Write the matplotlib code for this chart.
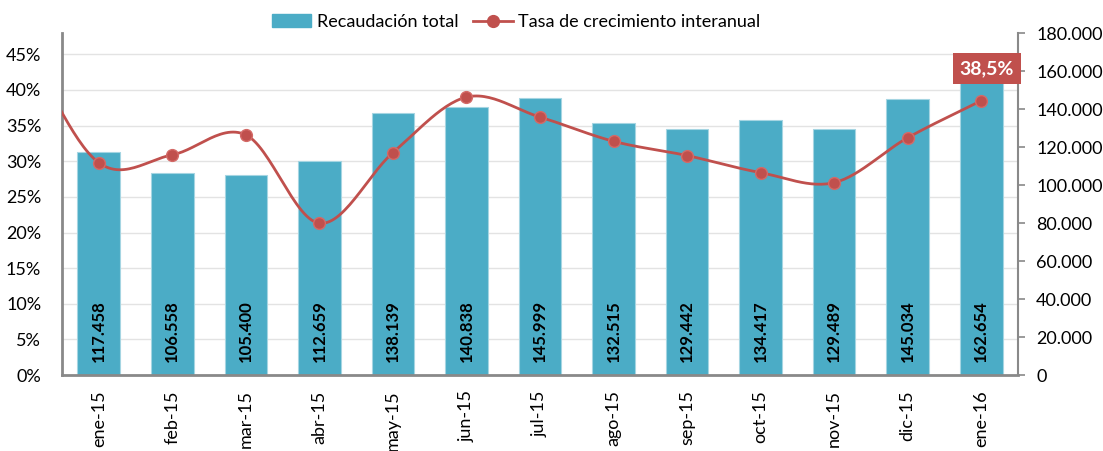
import numpy as np
import matplotlib.pyplot as plt
from matplotlib.ticker import FuncFormatter
from matplotlib.transforms import blended_transform_factory
from matplotlib.lines import Line2D
from matplotlib.patches import Patch

plt.rcParams['font.family'] = ['Lato', 'DejaVu Sans']

months = ['ene-15', 'feb-15', 'mar-15', 'abr-15', 'may-15', 'jun-15', 'jul-15',
          'ago-15', 'sep-15', 'oct-15', 'nov-15', 'dic-15', 'ene-16']
recaudacion = [117458, 106558, 105400, 112659, 138139, 140838, 145999,
               132515, 129442, 134417, 129489, 145034, 162654]
tasa = [0.298, 0.309, 0.337, 0.213, 0.312, 0.390, 0.362,
        0.328, 0.308, 0.284, 0.270, 0.333, 0.385]
# dic-14 value (off chart, only the curve entering from the left edge is visible)
tasa_prev = 0.46

bar_color = '#4BACC6'
line_color = '#C0504D'
spine_color = '#898989'


def smooth(xs, ys, n=30):
    # cubic hermite / catmull-rom like Excel's smoothed line
    xs = np.asarray(xs, float)
    ys = np.asarray(ys, float)
    m = np.zeros_like(ys)
    m[1:-1] = (ys[2:] - ys[:-2]) / 2
    m[0] = ys[1] - ys[0]
    m[-1] = ys[-1] - ys[-2]
    X, Y = [], []
    for i in range(len(xs) - 1):
        t = np.linspace(0, 1, n)
        h00 = 2*t**3 - 3*t**2 + 1
        h10 = t**3 - 2*t**2 + t
        h01 = -2*t**3 + 3*t**2
        h11 = t**3 - t**2
        X.append(xs[i] + t * (xs[i+1] - xs[i]))
        Y.append(h00*ys[i] + h10*m[i] + h01*ys[i+1] + h11*m[i+1])
    return np.concatenate(X), np.concatenate(Y)


fig = plt.figure(figsize=(11.03, 4.51), dpi=100)
W, H = 1103, 451
left, right, top, bottom = 62, 1018, 33, 375
axb = fig.add_axes([left / W, 1 - bottom / H, (right - left) / W, (bottom - top) / H])
axl = axb.twinx()

x = np.arange(len(months))

# bars (right axis)
axb.bar(x, recaudacion, width=0.58, color=bar_color, edgecolor='#A5D5E2',
        linewidth=0.8, zorder=2)
for i, v in enumerate(recaudacion):
    axb.annotate('{:,.0f}'.format(v).replace(',', '.'), xy=(i, 0), xytext=(0, 9),
                 textcoords='offset points', rotation=90, ha='center', va='bottom',
                 fontsize=12, fontweight='bold', color='black', zorder=3)
axb.set_ylim(0, 180000)
axb.set_yticks(np.arange(0, 180001, 20000))
axb.yaxis.set_major_formatter(FuncFormatter(lambda v, p: '{:,.0f}'.format(v).replace(',', '.')))
axb.yaxis.tick_right()
axb.tick_params(axis='y', direction='out', length=5, width=1.2, color=spine_color,
                labelsize=13, pad=8)
axb.set_xlim(-0.5, len(months) - 0.5)
axb.set_xticks(x)
axb.set_xticklabels(months, rotation=90, va='top', ha='center')
axb.tick_params(axis='x', length=0, labelsize=13, pad=11)

# line (left axis)
sx, sy = smooth(np.concatenate([[-1], x]), [tasa_prev] + tasa)
axl.plot(sx, sy, color=line_color, lw=2, zorder=4, clip_on=True)
axl.plot(x, tasa, 'o', color=line_color, markersize=8.5, markeredgecolor='#D46A67',
         markeredgewidth=1, zorder=5)
axl.set_ylim(0, 0.48)
axl.set_yticks(np.arange(0, 0.451, 0.05))
axl.yaxis.set_major_formatter(FuncFormatter(lambda v, p: '{:.0f}%'.format(v * 100)))
axl.yaxis.tick_left()
axl.tick_params(axis='y', length=0, labelsize=13, pad=15)

# gridlines behind the bars, at the percent ticks
tr = blended_transform_factory(axb.transAxes, axl.transData)
for t in np.arange(0.05, 0.451, 0.05):
    axb.add_line(Line2D([0, 1], [t, t], transform=tr, color='#E3E3E3', lw=1, zorder=1))

for ax in (axb, axl):
    ax.spines['top'].set_visible(False)
    for s in ('left', 'right', 'bottom'):
        ax.spines[s].set_color(spine_color)
        ax.spines[s].set_linewidth(2)
axl.spines['bottom'].set_visible(False)
axl.spines['right'].set_visible(False)
axb.spines['left'].set_visible(False)
axb.spines['right'].set_linewidth(1.5)

# label of the last value
last = len(tasa) - 1
axl.annotate('{:.1f}%'.format(tasa[last] * 100).replace('.', ','), xy=(last, tasa[last]),
             xytext=(4, 23), textcoords='offset points', ha='center', va='center',
             fontsize=14, fontweight='bold', color='white', zorder=6,
             bbox=dict(boxstyle='square,pad=0.35', fc=line_color, ec='none'))

handles = [Patch(color=bar_color),
           Line2D([], [], color=line_color, lw=2, marker='o', markersize=8.5)]
fig.legend(handles, ['Recaudación total', 'Tasa de crecimiento interanual'],
           loc='center', bbox_to_anchor=(516 / W, 1 - 22 / H), ncol=2, frameon=False,
           fontsize=13, handlelength=2.2, columnspacing=0.8, handletextpad=0.3)

fig.savefig('out.png', dpi=100)
